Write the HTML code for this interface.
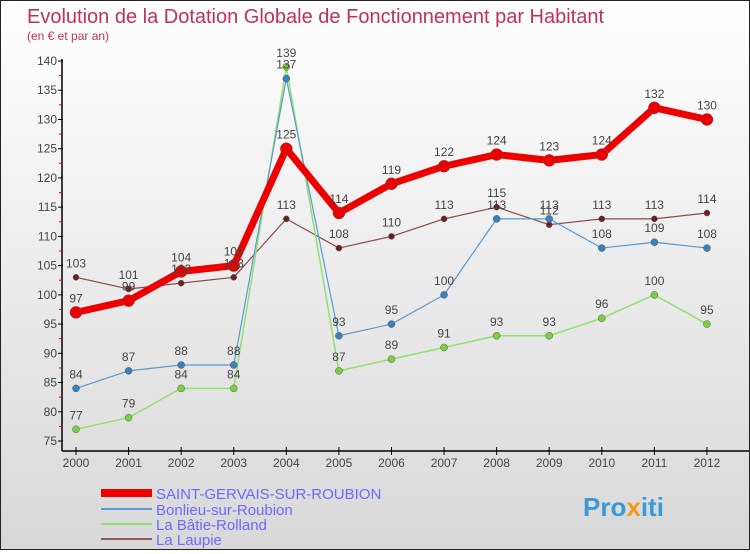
<!DOCTYPE html>
<html><head><meta charset="utf-8"><style>
body{margin:0;width:750px;height:550px;overflow:hidden;font-family:"Liberation Sans",sans-serif}
#c{position:absolute;left:0;top:0;width:748px;height:548px;border:1px solid #222;background:linear-gradient(#fff,#d8d8d8)}
</style></head><body>
<div id="c">
<svg id="s" width="748" height="548" xmlns="http://www.w3.org/2000/svg">
<text x="26" y="22" font-size="20" fill="#c0305a">Evolution de la Dotation Globale de Fonctionnement par Habitant</text>
<text x="26" y="39" font-size="12" fill="#c0305a">(en € et par an)</text>
<g id="axes"></g><g id="series"></g><g id="labels"></g>
<g>
<rect x="100" y="488" width="51" height="8" fill="#e00"/>
<text x="155" y="498" font-size="15" fill="#6a6aff">SAINT-GERVAIS-SUR-ROUBION</text>
<rect x="100" y="507" width="51" height="2" fill="#5a9ad0"/>
<text x="155" y="514" font-size="15" fill="#6a6aff">Bonlieu-sur-Roubion</text>
<rect x="100" y="522" width="51" height="2" fill="#90e070"/>
<text x="155" y="529" font-size="15" fill="#6a6aff">La Bâtie-Rolland</text>
<rect x="100" y="537" width="51" height="2" fill="#8b5a5a"/>
<text x="155" y="544" font-size="15" fill="#6a6aff">La Laupie</text>
</g>
<text x="582" y="515" font-size="26" font-weight="bold" fill="#3a9ad8">Pro<tspan fill="#f39a1a">x</tspan>iti</text>
</svg></div>
<script>
const years=[2000,2001,2002,2003,2004,2005,2006,2007,2008,2009,2010,2011,2012];
const yTicks=[75,80,85,90,95,100,105,110,115,120,125,130,135,140];
const saint=[97,99,104,105,125,114,119,122,124,123,124,132,130];
const bonlieu=[84,87,88,88,137,93,95,100,113,113,108,109,108];
const batie=[77,79,84,84,139,87,89,91,93,93,96,100,95];
const laupie=[103,101,102,103,113,108,110,113,115,112,113,113,114];
const NS="http://www.w3.org/2000/svg";
const X=i=>75+i*52.58, Y=v=>440-(v-75)*5.846;
function mk(t,a,p){const e=document.createElementNS(NS,t);for(const k in a)e.setAttribute(k,a[k]);p.appendChild(e);return e;}
const ax=document.getElementById('axes'),se=document.getElementById('series'),lb=document.getElementById('labels');
let l=mk('line',{x1:61,y1:58,x2:61,y2:450,stroke:'#000','stroke-width':1.5},ax);

l=mk('line',{x1:61,y1:450,x2:748,y2:450,stroke:'#000','stroke-width':1.5},ax);

yTicks.forEach(v=>{mk('line',{x1:57,x2:62,y1:Y(v),y2:Y(v),stroke:'#000'},ax);
 if(v<140)mk('line',{x1:58,x2:61,y1:Y(v+2.5),y2:Y(v+2.5),stroke:'#e00'},ax);
 const t=mk('text',{x:56,y:Y(v)+4,'font-size':12,fill:'#444','text-anchor':'end'},ax);t.textContent=v;
 });
years.forEach((y,i)=>{mk('line',{x1:X(i),x2:X(i),y1:446,y2:454,stroke:'#000'},ax);
 const t=mk('text',{x:X(i),y:466,'font-size':12,fill:'#444','text-anchor':'middle'},ax);t.textContent=y;
 });
function series(d,col,w,r,name,dot){
 const p=mk('polyline',{points:d.map((v,i)=>X(i)+','+Y(v)).join(' '),fill:'none',stroke:col,'stroke-width':w,'stroke-linejoin':'round'},se);
 
 d.forEach((v,i)=>{const c=mk('circle',{cx:X(i),cy:Y(v),r:r,fill:dot,stroke:'#555','stroke-width':0.5},se);
  
  const t=mk('text',{x:X(i),y:Y(v)-10,'font-size':12,fill:'#444','text-anchor':'middle'},lb);t.textContent=v;
  });
}
series(laupie,'#8b4a4a',1.2,3,'laupie','#6b2020');
series(batie,'#90e070',1.5,3.5,'batie','#7cd040');
series(bonlieu,'#5a9ad0',1.2,3.5,'bonlieu','#3a80c0');
series(saint,'#e00',7,6,'saint-gervais','#e00');
</script></body></html>
